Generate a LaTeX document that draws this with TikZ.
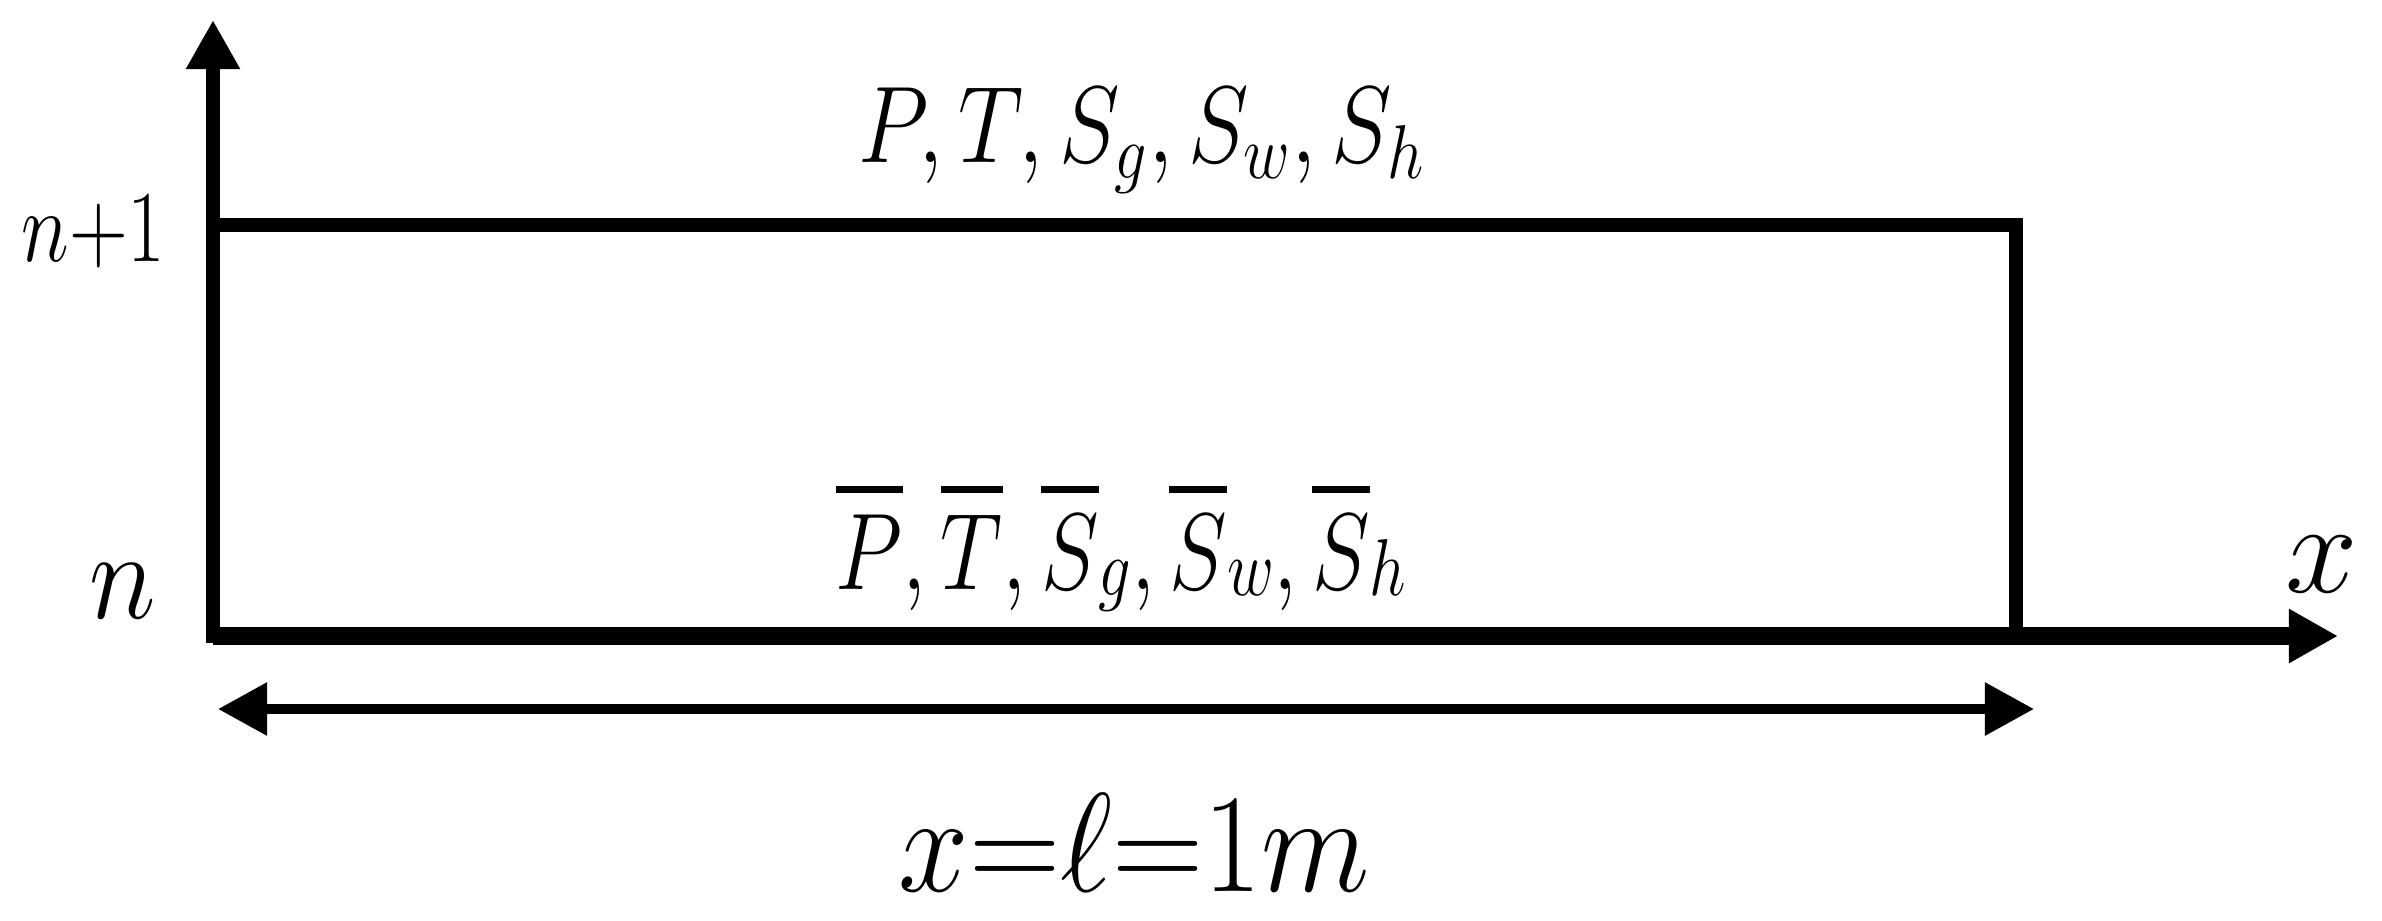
\RequirePackage{fix-cm}
\documentclass[tikz,border=0pt]{standalone}
\usepackage{graphicx}
\usetikzlibrary{arrows.meta}
\newcommand\ovb[1]{\vbox{\hrule height 2pt\kern 6pt\hbox{$#1$}}}
\newcommand\lowsub[1]{\raisebox{-0.06em}{\scalebox{0.74}{$#1$}}}
\newcommand\sqz[2]{\scalebox{#1}[1]{#2}}
\begin{document}
\begin{tikzpicture}[x=0.01cm,y=-0.01cm,
  tip/.style={-{Triangle[length=14pt,width=14.5pt]}},
  dtip/.style={{Triangle[length=14pt,width=14.5pt]}-{Triangle[length=14pt,width=14.5pt]}},
  lbl/.style={inner sep=0pt}]
\useasboundingbox (0,0) rectangle (2382,920);
\coordinate (O) at (213,636);
\coordinate (Ytip) at (213,20);
\coordinate (Xtip) at (2338,636);
\coordinate (TL) at (213,225);
\coordinate (TR) at (2016,225);
\coordinate (BR) at (2016,636);
\coordinate (DL) at (218,709);
\coordinate (DR) at (2034,709);
\draw[line width=4pt] (TL) -- (TR) -- (BR);
\draw[tip, line width=3.8pt, line cap=rect] (O) -- (Ytip);
\draw[tip, line width=5pt] (O) -- (Xtip);
\draw[dtip, line width=2.8pt] (DL) -- (DR);
\node[lbl, anchor=base east, font=\fontsize{29pt}{33pt}\selectfont] (n1) at (166,261) {\sqz{0.8}{$n{+}1$}};
\node[lbl, anchor=base east, font=\fontsize{36pt}{42pt}\selectfont] (n0) at (157,618) {\sqz{0.9}{$n$}};
\node[lbl, anchor=base west, font=\fontsize{37pt}{42pt}\selectfont] (xl) at (2285,592) {$x$};
\node[lbl, anchor=base west, font=\fontsize{31pt}{36pt}\selectfont] (top) at (858,162)
  {\sqz{0.84}{$P,T,S_{g},S_{w},S_{h}$}};
\node[lbl, anchor=base west, font=\fontsize{31pt}{36pt}\selectfont] (bot) at (835,589)
  {\sqz{0.8}{$\ovb{P},\ovb{T},\ovb{S}\lowsub{g},\ovb{S}\lowsub{w},\ovb{S}\lowsub{h}$}};
\node[lbl, anchor=base west, font=\fontsize{40pt}{46pt}\selectfont] (len) at (898,891)
  {\sqz{0.9}{$x{=}\ell{=}1m$}};
\end{tikzpicture}
\end{document}
